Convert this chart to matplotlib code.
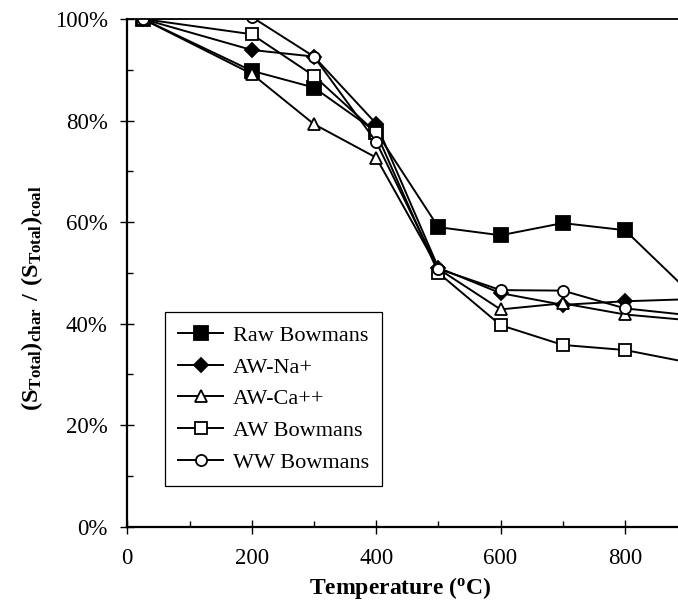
import numpy as np
import matplotlib
matplotlib.use("Agg")
import matplotlib.pyplot as plt
from matplotlib.ticker import MultipleLocator, FuncFormatter

plt.rcParams['font.family'] = ['Liberation Serif', 'DejaVu Serif']
plt.rcParams['mathtext.fontset'] = 'custom'
plt.rcParams['mathtext.rm'] = 'Liberation Serif'
plt.rcParams['mathtext.bf'] = 'Liberation Serif:bold'

# temperatures (C) and sulphur retention (%)
temp = [25, 200, 300, 400, 500, 600, 700, 800, 900]
raw_bowmans = [100, 89.8, 86.5, 77.8, 59.0, 57.4, 59.8, 58.4, 46.6]
aw_na = [100, 93.9, 92.6, 79.4, 51.0, 46.0, 43.7, 44.4, 44.8]
aw_ca = [100, 89.2, 79.3, 72.7, 50.8, 42.8, 44.0, 41.8, 40.7]
aw_bowmans = [100, 97.0, 88.8, 77.6, 50.0, 39.7, 35.8, 34.8, 32.4]
ww_bowmans = [100, 100.4, 92.6, 75.8, 50.8, 46.6, 46.5, 43.0, 41.7]

W, H = 678, 602
fig = plt.figure(figsize=(W / 100, H / 100), dpi=100)
# the original chart is cropped on the right, so the axes stops at the picture edge
x0, x1 = 127.3, 678
y0, y1 = 526.7, 19
ax = fig.add_axes([x0 / W, 1 - y0 / H, (x1 - x0) / W, (y0 - y1) / H])

series = [
    ('Raw Bowmans', raw_bowmans, 's', 'black', 9.5),
    ('AW-Na+', aw_na, 'D', 'black', 7),
    ('AW-Ca++', aw_ca, '^', 'white', 8),
    ('AW Bowmans', aw_bowmans, 's', 'white', 8),
    ('WW Bowmans', ww_bowmans, 'o', 'white', 8),
]
for name, vals, mk, fc, ms in series:
    ax.plot(temp, vals, color='black', lw=1.4, marker=mk, markersize=ms,
            markerfacecolor=fc, markeredgecolor='black', markeredgewidth=1.3,
            label=name)

ax.set_xlim(0, (x1 - x0) / 0.6221)
ax.set_ylim(0, 100)
ax.xaxis.set_major_locator(MultipleLocator(200))
ax.xaxis.set_minor_locator(MultipleLocator(100))
ax.yaxis.set_major_locator(MultipleLocator(20))
ax.yaxis.set_minor_locator(MultipleLocator(10))
ax.yaxis.set_major_formatter(FuncFormatter(lambda v, p: f'{v:.0f}%'))

ax.tick_params(which='major', direction='inout', length=10, width=1, labelsize=16.5)
ax.tick_params(which='minor', direction='in', length=4, width=1)
ax.tick_params(axis='x', which='major', pad=10)
ax.tick_params(axis='y', which='major', pad=9)

for side in ['left', 'bottom']:
    ax.spines[side].set_linewidth(1.6)
ax.spines['top'].set_linewidth(1.3)
ax.spines['right'].set_visible(False)

fig.text(400 / W, 1 - 588 / H, r'Temperature ($\mathregular{^o}$C)', ha='center', va='center',
         fontsize=17, fontweight='bold')
fig.text(32 / W, 1 - 298 / H,
         r'$\mathbf{(S_{Total})_{char}\ /\ (S_{Total})_{coal}}$',
         rotation=90, ha='center', va='center', fontsize=17.5)

leg = ax.legend(loc='upper left', bbox_to_anchor=(165 / W, 1 - 312 / H),
                bbox_transform=fig.transFigure, borderaxespad=0,
                fancybox=False, edgecolor='black', framealpha=1,
                fontsize=16, handlelength=2.0, handletextpad=0.45,
                labelspacing=0.5, borderpad=0.6)
leg.get_frame().set_linewidth(0.9)

fig.savefig('out.png', dpi=100)
